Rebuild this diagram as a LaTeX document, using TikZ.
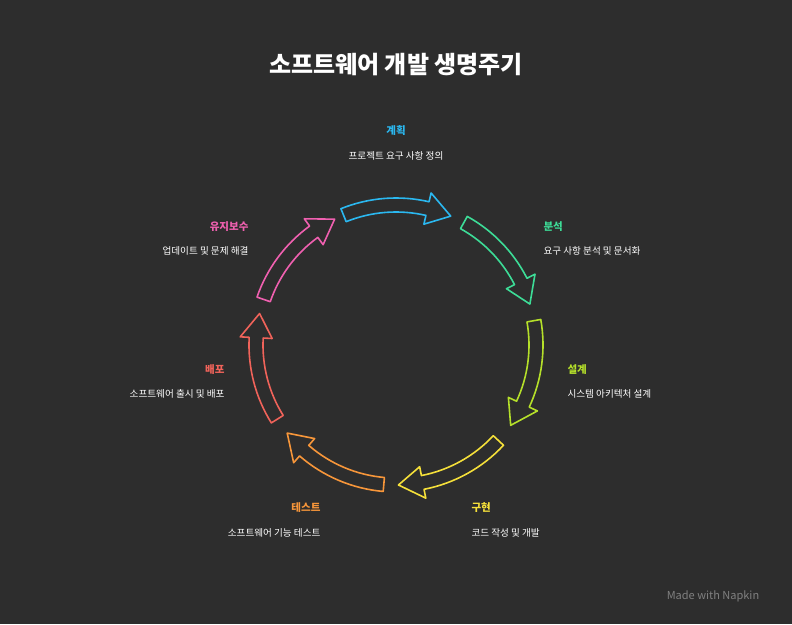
\documentclass[tikz,border=0pt]{standalone}
\usepackage{fontspec}
\setmainfont{Noto Sans CJK KR}
\usetikzlibrary{positioning}
\definecolor{bgc}{HTML}{2D2D2D}
\definecolor{cplan}{HTML}{2BB8F0}
\definecolor{cana}{HTML}{3DDC97}
\definecolor{cdes}{HTML}{B5E02A}
\definecolor{cimp}{HTML}{F5E03A}
\definecolor{ctest}{HTML}{F7963A}
\definecolor{cdep}{HTML}{F0635A}
\definecolor{cmnt}{HTML}{F060B0}
\tikzset{
  head/.style={font=\bfseries\fontsize{10.5}{12}\selectfont},
  desc/.style={text=white,font=\fontsize{9.6}{11}\selectfont},
}
% cycle arrow: colour, start angle, end angle
\newcommand\cyclearrow[3]{%
  \draw[#1,line width=1.6pt,line join=round,shift={(396,279)}]
    (#2:147) arc[start angle=#2,end angle=#3+10,radius=147]
    -- (#3+10:156) -- (#3:140) -- (#3+10:124) -- (#3+10:133)
    arc[start angle=#3+10,end angle=#2,radius=133] -- cycle;}
\begin{document}
\begin{tikzpicture}[x=1pt,y=1pt]
\fill[bgc] (0,0) rectangle (792,624);
\useasboundingbox (0,0) rectangle (792,624);
% title
\node[text=white,font=\bfseries\fontsize{24}{28}\selectfont] (title) at (396,559) {소프트웨어 개발 생명주기};
% arrows
\cyclearrow{cplan}{112}{67}
\cyclearrow{cana}{61}{17}
\cyclearrow{cdes}{10}{-35}
\cyclearrow{cimp}{-43}{-89}
\cyclearrow{ctest}{-95}{-141}
\cyclearrow{cdep}{212}{167}
\cyclearrow{cmnt}{161}{116}
% labels
\node[head,text=cplan] (plan) at (396,493) {계획};
\node[desc] (plandesc) at (396,468) {프로젝트 요구 사항 정의};
\node[head,text=cana,anchor=west] (ana) at (540,397) {분석};
\node[desc,anchor=west] (anadesc) at (540,373) {요구 사항 분석 및 문서화};
\node[head,text=cdes,anchor=west] (des) at (564,254) {설계};
\node[desc,anchor=west] (desdesc) at (564,230) {시스템 아키텍처 설계};
\node[head,text=cimp,anchor=west] (imp) at (468,116) {구현};
\node[desc,anchor=west] (impdesc) at (468,91) {코드 작성 및 개발};
\node[head,text=ctest,anchor=east] (test) at (324,116) {테스트};
\node[desc,anchor=east] (testdesc) at (324,91) {소프트웨어 기능 테스트};
\node[head,text=cdep,anchor=east] (dep) at (228,254) {배포};
\node[desc,anchor=east] (depdesc) at (228,230) {소프트웨어 출시 및 배포};
\node[head,text=cmnt,anchor=east] (mnt) at (252,397) {유지보수};
\node[desc,anchor=east] (mntdesc) at (252,373) {업데이트 및 문제 해결};
\node[text=gray,font=\fontsize{11}{13}\selectfont] (credit) at (713,28) {Made with Napkin};
\end{tikzpicture}
\end{document}
